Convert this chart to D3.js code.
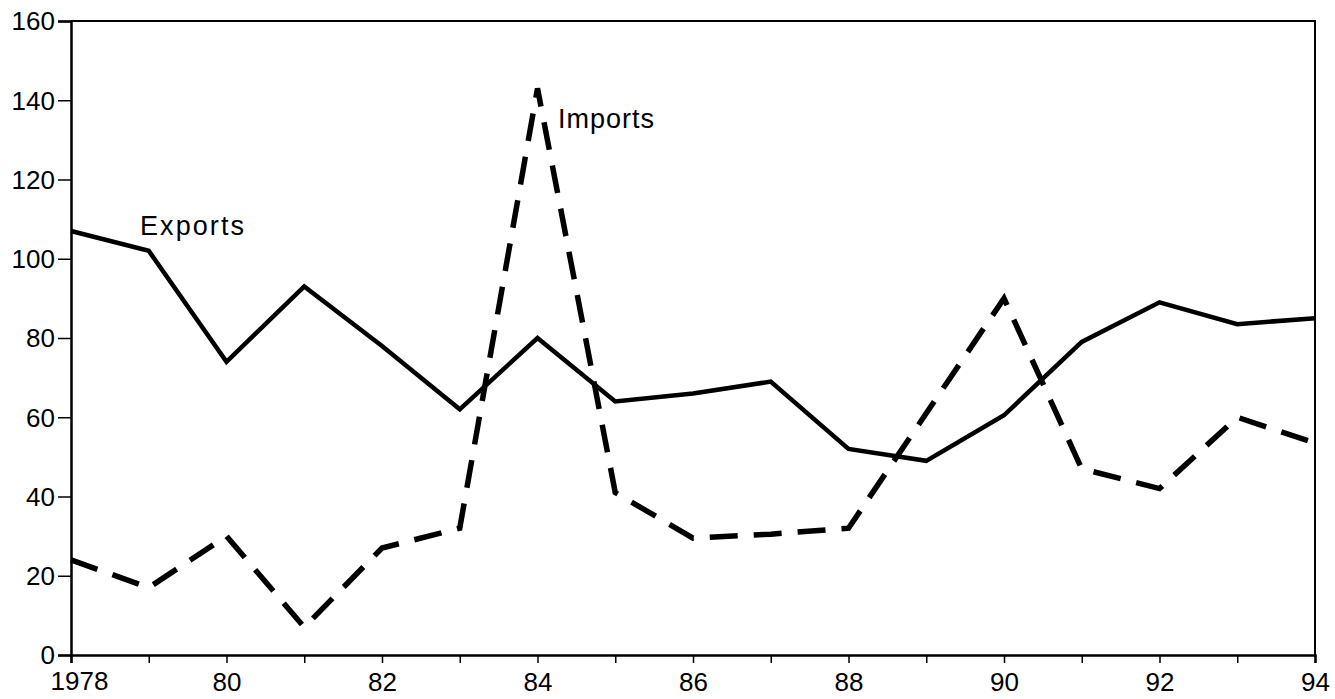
<!DOCTYPE html>
<html>
<head>
<meta charset="utf-8">
<script src="https://cdn.jsdelivr.net/npm/d3@7"></script>
<style>
  body { margin: 0; background: #fff; }
  svg text { font-family: "Liberation Sans", Arial, sans-serif; fill: #000; }
</style>
</head>
<body>
<svg id="chart" width="1335" height="699"></svg>
<script>
// 수출입 지수 1978-94
const years = [1978, 1979, 1980, 1981, 1982, 1983, 1984, 1985, 1986, 1987, 1988, 1989, 1990, 1991, 1992, 1993, 1994];
const exportsVals = [107, 102, 74, 93, 78, 62, 80, 64, 66, 69, 52, 49, 60.5, 79, 89, 83.5, 85];
const importsVals = [24, 17, 30, 7, 27, 32, 143, 41, 29.5, 30.5, 32, 61, 90, 47, 42, 60, 53.5];
const yTicks = [0, 20, 40, 60, 80, 100, 120, 140, 160];
const xLabelYears = [1978, 1980, 1982, 1984, 1986, 1988, 1990, 1992, 1994];

const svg = d3.select('#chart');
const margin = { left: 71, right: 20, top: 21, bottom: 44 };
const width = 1335, height = 699;

const x = d3.scaleLinear().domain([1978, 1994]).range([margin.left, width - margin.right]);
const y = d3.scaleLinear().domain([0, 160]).range([height - margin.bottom, margin.top]);

// 프레임 (위/오른쪽)
svg.append('path')
  .attr('d', `M${x(1978)},${y(160)}H${x(1994)}V${y(0)}`)
  .attr('fill', 'none')
  .attr('stroke', '#000')
  .attr('stroke-width', 2);

// y축
const yAxis = svg.append('g')
  .attr('transform', `translate(${margin.left},0)`)
  .call(d3.axisLeft(y).tickValues(yTicks).tickSize(13).tickPadding(3).tickFormat(d3.format('d')));

// x축
const xAxis = svg.append('g')
  .attr('transform', `translate(0,${y(0)})`)
  .call(d3.axisBottom(x).tickValues(years).tickSize(8).tickPadding(10)
    .tickFormat(d => xLabelYears.includes(d) ? (d === 1978 ? '1978' : String(d).slice(2)) : ''));

[yAxis, xAxis].forEach(a => {
  a.select('.domain').attr('stroke-width', 2.5);
  a.selectAll('.tick line').attr('stroke-width', 1.5);
  a.selectAll('.tick text').attr('font-size', 26).attr('fill', '#000');
});
yAxis.selectAll('.tick text').attr('dy', '0.34em');
xAxis.selectAll('.tick text').filter(d => d === 1978).attr('dx', 8).attr('dy', '0.66em');

// 라인
const line = vals => d3.line()
  .x((d, i) => x(years[i]))
  .y(d => y(d))(vals);

svg.append('path')
  .attr('d', line(exportsVals))
  .attr('fill', 'none')
  .attr('stroke', '#000')
  .attr('stroke-width', 4.5)
  .attr('stroke-linejoin', 'miter');

svg.append('path')
  .attr('d', line(importsVals))
  .attr('fill', 'none')
  .attr('stroke', '#000')
  .attr('stroke-width', 5.5)
  .attr('stroke-dasharray', '28,16')
  .attr('stroke-linejoin', 'miter');

// 라벨
svg.append('text')
  .attr('x', 140).attr('y', 235)
  .attr('font-size', 27)
  .attr('textLength', 104)
  .text('Exports');

svg.append('text')
  .attr('x', 558).attr('y', 128)
  .attr('font-size', 27)
  .attr('textLength', 96)
  .text('Imports');
</script>
</body>
</html>
